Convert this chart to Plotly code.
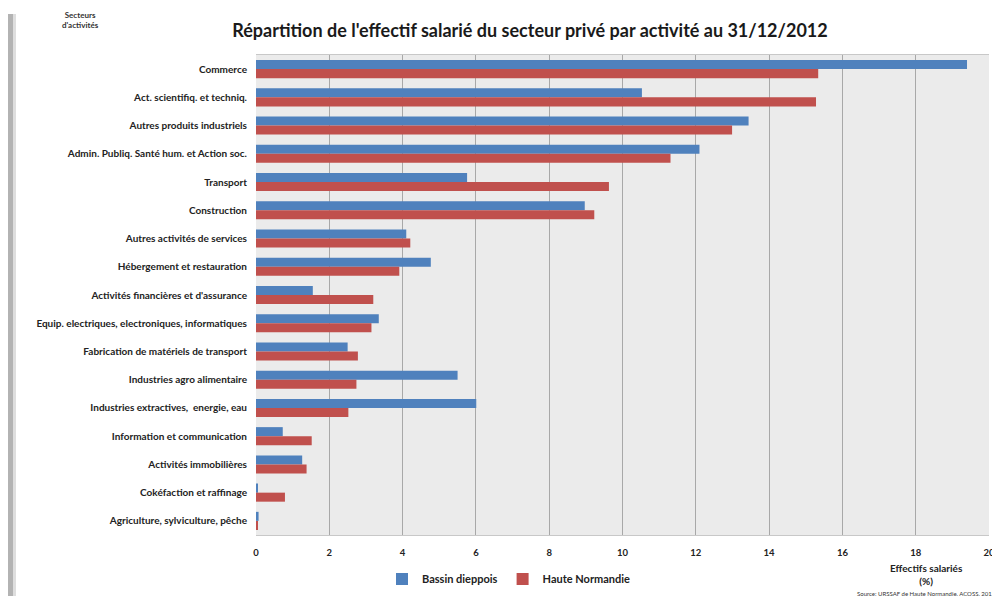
import plotly.graph_objects as go

categories = [
    "Commerce",
    "Act. scientifiq. et techniq.",
    "Autres produits industriels",
    "Admin. Publiq. Santé hum. et Action soc.",
    "Transport",
    "Construction",
    "Autres activités de services",
    "Hébergement et restauration",
    "Activités financières et d'assurance",
    "Equip. electriques, electroniques, informatiques",
    "Fabrication de matériels de transport",
    "Industries agro alimentaire",
    "Industries extractives,  energie, eau",
    "Information et communication",
    "Activités immobilières",
    "Cokéfaction et raffinage",
    "Agriculture, sylviculture, pêche",
]
bassin_dieppois = [19.4, 10.53, 13.44, 12.1, 5.76, 8.97, 4.1, 4.77, 1.55, 3.35, 2.5, 5.5, 6.01, 0.73, 1.26, 0.04, 0.07]
haute_normandie = [15.34, 15.28, 12.99, 11.31, 9.63, 9.23, 4.21, 3.91, 3.2, 3.15, 2.78, 2.74, 2.52, 1.52, 1.38, 0.79, 0.03]
x_ticks = [0, 2, 4, 6, 8, 10, 12, 14, 16, 18, 20]

FONT = "Lato"
W, H = 1000, 596
OFF = 8  # the page body offsets the figure by 8px
# target plot box on screen: x 256..989, y 55..535
L = 256 - OFF
T = 55 - OFF
R = W - (989 - OFF)
B = H - (535 - OFF)
PW, PH = W - L - R, H - T - B

def px(xs):
    return (xs - OFF - L) / PW

def py(ys):
    return (H - B - (ys - OFF)) / PH

fig = go.Figure()
fig.add_trace(go.Bar(y=categories, x=bassin_dieppois, orientation="h", name="Bassin dieppois",
                     marker=dict(color="#4f81bd", line=dict(width=0))))
fig.add_trace(go.Bar(y=categories, x=haute_normandie, orientation="h", name="Haute Normandie",
                     marker=dict(color="#c0504d", line=dict(width=0))))

fig.update_layout(
    width=W, height=H,
    margin=dict(l=L, r=R, t=T, b=B, pad=0, autoexpand=False),
    paper_bgcolor="white",
    plot_bgcolor="#ebebeb",
    barmode="group",
    bargap=0.36,
    bargroupgap=0.0,
    font=dict(family=FONT, size=10, color="#222222"),
    title=dict(text="<b>Répartition de l'effectif salarié du secteur privé par activité au 31/12/2012</b>",
               x=(530 - OFF) / W, xanchor="center", y=1 - (31 - OFF) / H, yanchor="middle", yref="container",
               font=dict(family=FONT, size=18, color="#1a1a1a")),
    xaxis=dict(range=[0, 20], tickvals=x_ticks, ticktext=[str(v) for v in x_ticks],
               showgrid=True, gridcolor="#a8a8a8", gridwidth=1, zeroline=False,
               showline=True, linecolor="#c8c8c8", mirror=True, ticks="", ticklabelstandoff=9,
               tickfont=dict(family=FONT, size=9.5, color="#222222", weight="bold"), fixedrange=True),
    yaxis=dict(autorange="reversed", showgrid=False, zeroline=False, ticks="",
               showline=False, ticklabelstandoff=8,
               tickfont=dict(family=FONT, size=10, color="#222222", weight="bold")),
    legend=dict(orientation="h", x=px(382), y=py(579), xanchor="left", yanchor="middle",
                font=dict(family=FONT, size=11, color="#222222", weight="bold"),
                itemwidth=30, bgcolor="rgba(0,0,0,0)", traceorder="normal"),
    showlegend=True,
)

annotations = [
    dict(text="<b>Secteurs<br>d'activités</b>", x=px(80), y=py(20), xanchor="center", yanchor="middle",
         font=dict(family=FONT, size=8, color="#333333")),
    dict(text="<b>Effectifs salariés<br>(%)</b>", x=px(926), y=py(574), xanchor="center", yanchor="middle",
         font=dict(family=FONT, size=10, color="#222222")),
    dict(text="Source: URSSAF de Haute Normandie, ACOSS, 2012", x=px(998), y=py(593), xanchor="right",
         yanchor="middle", font=dict(family=FONT, size=6, color="#333333")),
]
for a in annotations:
    a.update(xref="paper", yref="paper", showarrow=False, align="center")
fig.update_layout(annotations=annotations)

# page shadow on the left edge and faint top border
fig.add_shape(type="rect", xref="paper", yref="paper", x0=px(8), x1=px(13), y0=py(604), y1=py(14),
              fillcolor="#9a9a9a", line=dict(width=0), opacity=0.75, layer="below")
fig.add_shape(type="rect", xref="paper", yref="paper", x0=px(13), x1=px(16), y0=py(604), y1=py(14),
              fillcolor="#d0d0d0", line=dict(width=0), opacity=0.7, layer="below")
fig.add_shape(type="line", xref="paper", yref="paper", x0=px(30), x1=px(1008), y0=py(6), y1=py(6),
              line=dict(color="#f0f0f0", width=1), layer="below")

fig.write_html("out.html")
